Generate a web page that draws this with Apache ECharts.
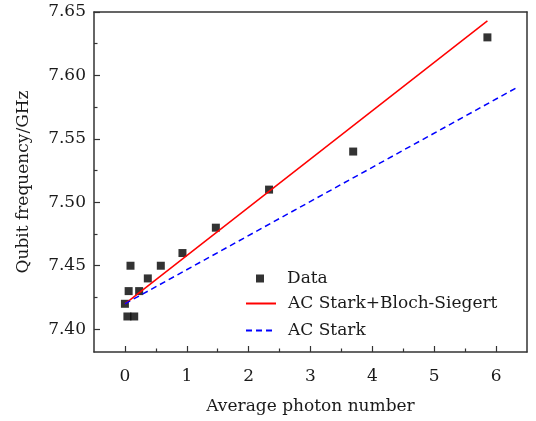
<!DOCTYPE html>
<html><head><meta charset="utf-8">
<script src="https://cdn.jsdelivr.net/npm/echarts@6/dist/echarts.min.js"></script>
<style>html,body{margin:0;padding:0;background:#fff}#c{width:536px;height:421px}</style>
</head><body><div id="c"></div>
<script>
// Measured data points
const photonNumber = [0.00, 0.04, 0.15, 0.06, 0.23, 0.37, 0.09, 0.58, 0.93, 1.47, 2.33, 3.69, 5.86];
const qubitFreq    = [7.42, 7.41, 7.41, 7.43, 7.43, 7.44, 7.45, 7.45, 7.46, 7.48, 7.51, 7.54, 7.63];
// Theory lines (endpoints)
const bsLineX = [0.00, 5.86];
const bsLineY = [7.420, 7.643];
const starkLineX = [0.00, 6.32];
const starkLineY = [7.420, 7.590];
// Ticks
const xTicks = [0, 1, 2, 3, 4, 5, 6];
const xMinorTicks = [0.5, 1.5, 2.5, 3.5, 4.5, 5.5];
const yTicks = [7.40, 7.45, 7.50, 7.55, 7.60, 7.65];
const yMinorTicks = [7.425, 7.475, 7.525, 7.575, 7.625];
const seriesNames = ['Data', 'AC Stark+Bloch-Siegert', 'AC Stark'];
const xName = 'Average photon number';
const yName = 'Qubit frequency/GHz';

const zip = (a, b) => a.map((v, i) => [v, b[i]]);
const FF = 'DejaVu Serif';
const TC = '#1a1a1a';
const AX = '#333';

const chart = echarts.init(document.getElementById('c'));
chart.setOption({
  animation: false,
  grid: {left: 94, right: 9, top: 12, bottom: 69},
  xAxis: [{
    type: 'value', min: -0.5, max: 6.5, position: 'bottom',
    axisLine: {show: true, onZero: false, lineStyle: {color: AX, width: 1.5}},
    splitLine: {show: false},
    axisTick: {show: true, inside: true, length: 6, customValues: xTicks, lineStyle: {color: AX, width: 1.2}},
    axisLabel: {customValues: xTicks, margin: 16, fontFamily: FF, fontSize: 17, color: TC},
    name: xName, nameLocation: 'middle', nameGap: 46,
    nameTextStyle: {fontFamily: FF, fontSize: 17, color: TC}
  }, {
    type: 'value', min: -0.5, max: 6.5, position: 'bottom',
    axisLine: {show: false, onZero: false}, splitLine: {show: false},
    axisTick: {show: true, inside: true, length: 3.5, customValues: xMinorTicks, lineStyle: {color: AX, width: 1.2}},
    axisLabel: {show: false}
  }, {
    type: 'value', min: -0.5, max: 6.5, position: 'top',
    axisLine: {show: true, onZero: false, lineStyle: {color: AX, width: 1.5}}, splitLine: {show: false},
    axisTick: {show: false}, axisLabel: {show: false}
  }],
  yAxis: [{
    type: 'value', min: 7.382, max: 7.65, position: 'left',
    axisLine: {show: true, onZero: false, lineStyle: {color: AX, width: 1.5}},
    splitLine: {show: false},
    axisTick: {show: true, inside: true, length: 6, customValues: yTicks, lineStyle: {color: AX, width: 1.2}},
    axisLabel: {customValues: yTicks, formatter: v => v.toFixed(2), margin: 8, fontFamily: FF, fontSize: 17, color: TC},
    name: yName, nameLocation: 'middle', nameGap: 62,
    nameTextStyle: {fontFamily: FF, fontSize: 17, color: TC}
  }, {
    type: 'value', min: 7.382, max: 7.65, position: 'left',
    axisLine: {show: false, onZero: false}, splitLine: {show: false},
    axisTick: {show: true, inside: true, length: 3.5, customValues: yMinorTicks, lineStyle: {color: AX, width: 1.2}},
    axisLabel: {show: false}
  }, {
    type: 'value', min: 7.382, max: 7.65, position: 'right',
    axisLine: {show: true, onZero: false, lineStyle: {color: AX, width: 1.5}}, splitLine: {show: false},
    axisTick: {show: false}, axisLabel: {show: false}
  }],
  legend: [{
    data: [seriesNames[0]], selectedMode: false, orient: 'vertical', padding: 0,
    left: 256, top: 270, itemWidth: 8, itemHeight: 8, icon: 'rect',
    formatter: n => '{s|}' + n,
    textStyle: {fontFamily: FF, fontSize: 17, color: TC, lineHeight: 16, rich: {s: {width: 18}}}
  }, {
    data: [seriesNames[1], seriesNames[2]], selectedMode: false, orient: 'vertical', padding: 0,
    left: 245, top: 295, itemWidth: 30, itemHeight: 16, itemGap: 10,
    itemStyle: {opacity: 0},
    formatter: n => '{s|}' + n,
    textStyle: {fontFamily: FF, fontSize: 17, color: TC, lineHeight: 16, rich: {s: {width: 7}}}
  }],
  series: [{
    name: seriesNames[0], type: 'scatter', xAxisIndex: 0, yAxisIndex: 0,
    data: zip(photonNumber, qubitFreq), symbol: 'rect', symbolSize: 8,
    itemStyle: {color: '#000'}
  }, {
    name: seriesNames[1], type: 'line', xAxisIndex: 0, yAxisIndex: 0,
    data: zip(bsLineX, bsLineY), symbol: 'none', showSymbol: false,
    lineStyle: {color: '#ff0000', width: 1.5}, itemStyle: {color: '#ff0000', opacity: 0}
  }, {
    name: seriesNames[2], type: 'line', xAxisIndex: 0, yAxisIndex: 0,
    data: zip(starkLineX, starkLineY), symbol: 'none', showSymbol: false,
    lineStyle: {color: '#0000ff', width: 1.5, type: [6, 4]}, itemStyle: {color: '#0000ff', opacity: 0}
  }]
});
</script>
</body></html>
